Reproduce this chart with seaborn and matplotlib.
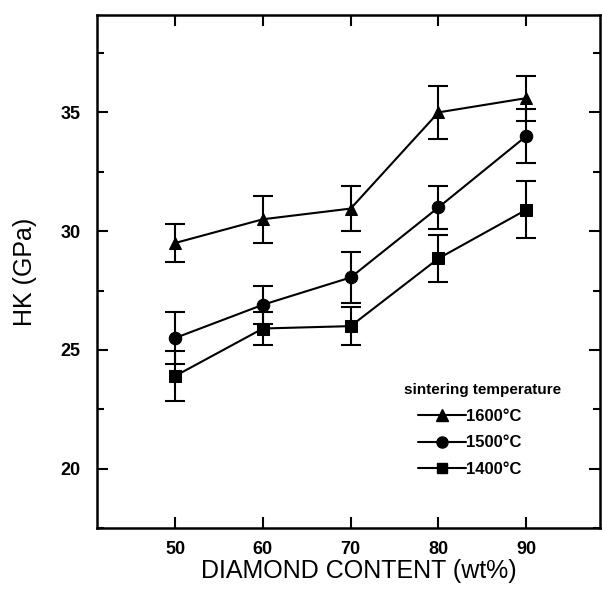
import matplotlib
matplotlib.use("Agg")
import matplotlib.pyplot as plt
from matplotlib.ticker import MultipleLocator
import seaborn as sns
import pandas as pd

# values
diamond = [50, 60, 70, 80, 90]
temps = ["1600°C", "1500°C", "1400°C"]
hk_1600 = [29.5, 30.5, 30.95, 35.0, 35.6]
hk_1500 = [25.5, 26.9, 28.05, 31.0, 34.0]
hk_1400 = [23.9, 25.9, 26.0, 28.85, 30.9]
err_1600 = [0.8, 1.0, 0.95, 1.1, 0.95]
err_1500 = [1.1, 0.8, 1.07, 0.9, 1.15]
err_1400 = [1.05, 0.7, 0.8, 1.0, 1.2]

rows = []
for t, vals, errs in zip(temps, [hk_1600, hk_1500, hk_1400], [err_1600, err_1500, err_1400]):
    for d, v, e in zip(diamond, vals, errs):
        rows.append({"diamond": d, "hk": v, "err": e, "temp": t})
data = pd.DataFrame(rows)

sns.set_theme(style="ticks")
plt.rcParams["font.family"] = ["Liberation Sans", "DejaVu Sans"]
plt.rcParams.update({"text.color": "black", "axes.labelcolor": "black",
                     "xtick.color": "black", "ytick.color": "black"})

fig = plt.figure(figsize=(6.02, 5.94), dpi=100)
ax = fig.add_axes([97 / 602, 66 / 594, 503 / 602, 513 / 594])

marker_map = {"1600°C": "^", "1500°C": "o", "1400°C": "s"}
size_map = {"1600°C": 9, "1500°C": 9, "1400°C": 8}

# error bars first, then lines and markers on top
for t in temps:
    sub = data[data["temp"] == t]
    ax.errorbar(sub["diamond"], sub["hk"], yerr=sub["err"], fmt="none",
                ecolor="black", elinewidth=1.5, capsize=7, capthick=1.5)

sns.lineplot(data=data, x="diamond", y="hk", style="temp", style_order=temps,
             markers=marker_map, dashes=False, color="black", linewidth=1.5,
             markersize=9, markeredgecolor="black", ax=ax, legend=False)

# legend: title as separate text so entries sit indented as in the reference
ax.text(0.610, 0.269, "sintering temperature", transform=ax.transAxes,
        ha="left", va="center", fontsize=11, fontweight="bold")
handles = [plt.Line2D([], [], color="black", lw=1.5, marker=marker_map[t],
                      markersize=size_map[t] - 1, markeredgecolor="black")
           for t in temps]
leg = ax.legend(handles, temps, frameon=False,
                loc="center left", bbox_to_anchor=(0.638, 0.166),
                prop={"weight": "bold", "size": 12},
                handlelength=2.9, handletextpad=0.0, labelspacing=0.69,
                borderpad=0, borderaxespad=0)

ax.set_xlim(41.1, 98.4)
ax.set_ylim(17.5, 39.1)
ax.xaxis.set_major_locator(MultipleLocator(10))
ax.yaxis.set_major_locator(MultipleLocator(5))
ax.yaxis.set_minor_locator(MultipleLocator(2.5))
ax.tick_params(which="both", direction="in", top=True, right=True, width=1.5,
               color="black")
ax.tick_params(which="major", length=8)
ax.tick_params(which="minor", length=5)
ax.tick_params(axis="y", pad=12)
ax.tick_params(axis="x", pad=9)
for lab in ax.get_xticklabels() + ax.get_yticklabels():
    lab.set_fontweight("bold")
    lab.set_fontsize(13)
for s in ax.spines.values():
    s.set_linewidth(1.8)
    s.set_color("black")

ax.set_xlabel("DIAMOND CONTENT (wt%)", fontsize=18)
ax.set_ylabel("HK (GPa)", fontsize=18)
ax.xaxis.set_label_coords(0.521, -0.06)
ax.yaxis.set_label_coords(-0.119, 0.5)

fig.savefig("out.png", dpi=100)
